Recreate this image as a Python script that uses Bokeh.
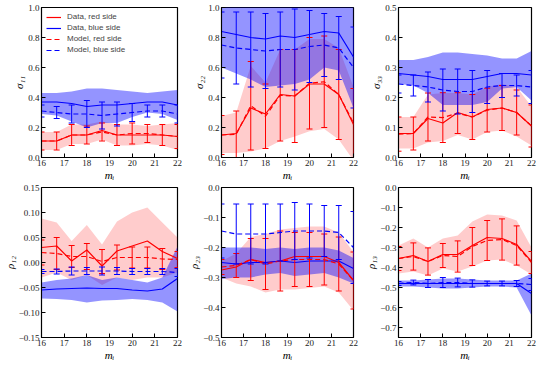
from bokeh.plotting import figure
from bokeh.layouts import gridplot
from bokeh.models import FixedTicker, Legend, LegendItem
from bokeh.embed import file_html
from bokeh.resources import INLINE
import math

# ---------------- data ----------------
m_i = [16.0, 16.67, 17.33, 18.0, 18.67, 19.33, 20.0, 20.67, 21.33, 22.0]
x_ticks = [16, 17, 18, 19, 20, 21, 22]

# sigma_11
s11_red_data = [0.11, 0.11, 0.15, 0.15, 0.18, 0.15, 0.15, 0.15, 0.15, 0.14]
s11_red_lo = [0.05, 0.05, 0.09, 0.09, 0.12, 0.08, 0.08, 0.09, 0.08, 0.05]
s11_red_hi = [0.17, 0.17, 0.22, 0.22, 0.24, 0.22, 0.22, 0.21, 0.22, 0.23]
s11_red_model = [0.11, 0.11, 0.15, 0.15, 0.17, 0.15, 0.16, 0.16, 0.15, 0.14]
s11_red_err = [0.06, 0.06, 0.07, 0.06, 0.06, 0.07, 0.07, 0.06, 0.07, 0.08]
s11_blue_data = [0.37, 0.37, 0.36, 0.34, 0.35, 0.35, 0.36, 0.37, 0.37, 0.35]
s11_blue_lo = [0.29, 0.28, 0.24, 0.20, 0.23, 0.23, 0.27, 0.30, 0.29, 0.25]
s11_blue_hi = [0.43, 0.43, 0.44, 0.46, 0.46, 0.45, 0.44, 0.43, 0.44, 0.45]
s11_blue_model = [0.31, 0.30, 0.29, 0.29, 0.28, 0.29, 0.30, 0.31, 0.31, 0.29]
s11_blue_err = [0.04, 0.04, 0.06, 0.09, 0.09, 0.08, 0.06, 0.04, 0.04, 0.06]

# sigma_22
s22_red_data = [0.15, 0.16, 0.33, 0.29, 0.42, 0.41, 0.49, 0.49, 0.42, 0.22]
s22_red_lo = [0.03, 0.03, 0.04, 0.06, 0.11, 0.14, 0.175, 0.19, 0.12, -0.02]
s22_red_hi = [0.276, 0.30, 0.61, 0.50, 0.72, 0.72, 0.79, 0.79, 0.73, 0.47]
s22_red_model = [0.15, 0.155, 0.345, 0.275, 0.415, 0.41, 0.495, 0.505, 0.42, 0.23]
s22_red_err = [0.13, 0.155, 0.295, 0.215, 0.305, 0.31, 0.305, 0.305, 0.30, 0.23]
s22_blue_data = [0.84, 0.82, 0.80, 0.79, 0.81, 0.80, 0.82, 0.84, 0.83, 0.67]
s22_blue_lo = [0.60, 0.56, 0.52, 0.47, 0.48, 0.49, 0.52, 0.60, 0.58, 0.33]
s22_blue_hi = [1.05, 1.05, 1.05, 1.05, 1.05, 1.05, 1.05, 1.05, 1.05, 1.05]
s22_blue_model = [0.75, 0.73, 0.72, 0.71, 0.72, 0.72, 0.74, 0.75, 0.73, 0.60]
s22_blue_err = [0.22, 0.24, 0.25, 0.25, 0.25, 0.27, 0.24, 0.21, 0.21, 0.27]

# sigma_33
s33_red_data = [0.08, 0.08, 0.13, 0.115, 0.15, 0.135, 0.16, 0.165, 0.15, 0.105]
s33_red_lo = [0.03, 0.03, 0.05, 0.055, 0.075, 0.06, 0.085, 0.09, 0.07, 0.04]
s33_red_hi = [0.135, 0.135, 0.21, 0.215, 0.215, 0.21, 0.235, 0.245, 0.235, 0.17]
s33_red_model = [0.078, 0.08, 0.135, 0.133, 0.148, 0.135, 0.158, 0.165, 0.15, 0.105]
s33_red_err = [0.057, 0.055, 0.08, 0.083, 0.068, 0.075, 0.073, 0.075, 0.075, 0.07]
s33_blue_data = [0.28, 0.275, 0.27, 0.26, 0.26, 0.26, 0.27, 0.28, 0.28, 0.275]
s33_blue_lo = [0.245, 0.24, 0.215, 0.175, 0.175, 0.175, 0.185, 0.23, 0.235, 0.19]
s33_blue_hi = [0.325, 0.325, 0.335, 0.35, 0.35, 0.345, 0.34, 0.33, 0.33, 0.355]
s33_blue_model = [0.245, 0.24, 0.235, 0.225, 0.22, 0.22, 0.235, 0.24, 0.24, 0.235]
s33_blue_err = [0.03, 0.035, 0.05, 0.07, 0.075, 0.07, 0.055, 0.04, 0.035, 0.055]

# rho_12
r12_red_data = [0.030, 0.033, 0.003, 0.025, -0.007, 0.023, 0.033, 0.043, 0.022, 0.008]
r12_red_lo = [-0.03, -0.02, -0.035, -0.025, -0.045, -0.03, -0.035, -0.03, -0.03, -0.02]
r12_red_hi = [0.088, 0.080, 0.043, 0.075, 0.036, 0.082, 0.10, 0.11, 0.08, 0.05]
r12_red_model = [0.020, 0.018, 0.012, 0.012, 0.002, 0.010, 0.010, 0.010, 0.007, 0.006]
r12_red_err = [0.025, 0.032, 0.022, 0.026, 0.024, 0.025, 0.021, 0.021, 0.021, 0.016]
r12_blue_data = [-0.055, -0.053, -0.052, -0.051, -0.052, -0.052, -0.055, -0.057, -0.053, -0.032]
r12_blue_lo = [-0.072, -0.073, -0.075, -0.080, -0.076, -0.075, -0.073, -0.075, -0.080, -0.098]
r12_blue_hi = [-0.040, -0.035, -0.032, -0.025, -0.035, -0.030, -0.035, -0.040, -0.030, 0.032]
r12_blue_model = [-0.018, -0.018, -0.017, -0.017, -0.017, -0.017, -0.018, -0.018, -0.018, -0.020]
r12_blue_err = [0.004, 0.005, 0.008, 0.007, 0.008, 0.007, 0.006, 0.006, 0.006, 0.008]

# rho_23
r23_red_data = [-0.275, -0.265, -0.24, -0.25, -0.245, -0.23, -0.23, -0.23, -0.25, -0.31]
r23_red_lo = [-0.30, -0.32, -0.33, -0.35, -0.34, -0.34, -0.335, -0.33, -0.35, -0.41]
r23_red_hi = [-0.245, -0.22, -0.165, -0.155, -0.14, -0.135, -0.13, -0.13, -0.15, -0.215]
r23_red_model = [-0.265, -0.26, -0.24, -0.255, -0.245, -0.24, -0.24, -0.24, -0.255, -0.31]
r23_red_err = [0.025, 0.04, 0.07, 0.085, 0.10, 0.09, 0.09, 0.085, 0.09, 0.095]
r23_blue_data = [-0.25, -0.255, -0.25, -0.25, -0.245, -0.25, -0.245, -0.245, -0.245, -0.27]
r23_blue_lo = [-0.305, -0.30, -0.30, -0.29, -0.285, -0.295, -0.29, -0.285, -0.30, -0.32]
r23_blue_hi = [-0.20, -0.20, -0.20, -0.205, -0.20, -0.205, -0.20, -0.20, -0.21, -0.235]
r23_blue_model = [-0.145, -0.155, -0.155, -0.155, -0.15, -0.145, -0.145, -0.145, -0.15, -0.20]
r23_blue_err = [0.09, 0.10, 0.10, 0.10, 0.095, 0.095, 0.09, 0.085, 0.09, 0.12]

# rho_13
r13_red_data = [-0.355, -0.34, -0.37, -0.335, -0.335, -0.29, -0.25, -0.255, -0.285, -0.37]
r13_red_lo = [-0.43, -0.42, -0.44, -0.405, -0.42, -0.395, -0.365, -0.36, -0.39, -0.435]
r13_red_hi = [-0.29, -0.255, -0.30, -0.255, -0.24, -0.17, -0.135, -0.14, -0.165, -0.30]
r13_red_model = [-0.355, -0.345, -0.37, -0.34, -0.345, -0.295, -0.265, -0.26, -0.29, -0.375]
r13_red_err = [0.06, 0.068, 0.068, 0.06, 0.078, 0.095, 0.10, 0.103, 0.098, 0.055]
r13_blue_data = [-0.48, -0.48, -0.48, -0.48, -0.48, -0.48, -0.48, -0.48, -0.48, -0.53]
r13_blue_lo = [-0.495, -0.495, -0.50, -0.505, -0.505, -0.50, -0.495, -0.495, -0.50, -0.64]
r13_blue_hi = [-0.465, -0.465, -0.46, -0.455, -0.455, -0.46, -0.465, -0.465, -0.465, -0.43]
r13_blue_model = [-0.48, -0.475, -0.48, -0.475, -0.475, -0.48, -0.48, -0.48, -0.48, -0.485]
r13_blue_err = [0.01, 0.012, 0.02, 0.025, 0.022, 0.018, 0.012, 0.012, 0.015, 0.03]

yticks_s11 = [0.0, 0.2, 0.4, 0.6, 0.8, 1.0]
yticks_s33 = [0.0, 0.1, 0.2, 0.3, 0.4, 0.5]
yticks_r12 = [-0.15, -0.10, -0.05, 0.0, 0.05, 0.10, 0.15]
yticks_r23 = [-0.5, -0.4, -0.3, -0.2, -0.1, 0.0]
yticks_r13 = [-0.7, -0.6, -0.5, -0.4, -0.3, -0.2, -0.1, 0.0]

RED = "#ff0000"
BLUE = "#0000ff"
SERIF = "Liberation Serif"


def fmt(v, nd):
    s = f"{v:.{nd}f}"
    return s.replace("-", "\u2212")


def style_axis(ax):
    ax.major_tick_in = 4
    ax.major_tick_out = 0
    ax.minor_tick_in = 0
    ax.minor_tick_out = 0
    ax.axis_line_color = "black"
    ax.major_tick_line_color = "black"
    ax.major_label_text_font = SERIF
    ax.major_label_text_font_size = "9px"
    ax.major_label_text_color = "#222222"
    ax.major_label_standoff = 2
    ax.axis_label_text_font = SERIF
    ax.axis_label_text_font_size = "11px"
    ax.axis_label_text_font_style = "italic"
    ax.axis_label_text_color = "black"
    ax.axis_label_standoff = 0


def panel(yr, yticks, nd, ylabel, borders, frame, series):
    left, right, top, bottom = borders
    fw, fh = frame
    p = figure(width=left + fw + right, height=top + fh + bottom,
               x_range=(16, 22), y_range=yr, output_backend="svg",
               toolbar_location=None,
               min_border_left=left, min_border_right=right,
               min_border_top=top, min_border_bottom=bottom)
    p.grid.visible = False
    p.outline_line_color = "black"
    p.outline_line_width = 1.2
    p.background_fill_color = "white"
    p.border_fill_color = "white"
    style_axis(p.xaxis[0])
    style_axis(p.yaxis[0])
    p.xaxis.ticker = FixedTicker(ticks=x_ticks)
    p.xaxis.major_label_overrides = {t: str(t) for t in x_ticks}
    p.yaxis.ticker = FixedTicker(ticks=yticks)
    p.yaxis.major_label_overrides = {t: fmt(t, nd) for t in yticks}
    p.xaxis.axis_label = "m\u1d62"
    p.yaxis.axis_label = ylabel

    (rd, rlo, rhi, rm, rerr, bd, blo, bhi, bm, berr) = series
    p.varea(x=m_i, y1=rlo, y2=rhi, fill_color=RED, fill_alpha=0.2)
    p.varea(x=m_i, y1=blo, y2=bhi, fill_color=BLUE, fill_alpha=0.42)
    out = {}
    out["rd"] = p.line(m_i, rd, line_color=RED, line_width=1.2)
    out["bd"] = p.line(m_i, bd, line_color=BLUE, line_width=1.2)
    for key, m, e, c in (("rm", rm, rerr, RED), ("bm", bm, berr, BLUE)):
        lo = [a - b for a, b in zip(m, e)]
        hi = [a + b for a, b in zip(m, e)]
        p.segment(x0=m_i, y0=lo, x1=m_i, y1=hi, line_color=c, line_width=1)
        p.scatter(m_i, lo, marker="dash", size=6, line_color=c, line_width=1)
        p.scatter(m_i, hi, marker="dash", size=6, line_color=c, line_width=1)
        out[key] = p.line(m_i, m, line_color=c, line_width=1.2, line_dash="5 3")
        out[key + "_icon"] = p.scatter(x=[], y=[], marker="dash", angle=math.pi / 2,
                                       size=8, line_color=c, line_width=1.2)
    return p, out


# (left, right) borders and frame widths per column; (top, bottom) and frame heights per row
col_b = [(40, 8), (33, 9), (32, 9)]
col_w = [137, 135, 137]
row_b = [(7, 27), (3, 27)]
row_h = [150, 150]


def geo(r, c):
    return (col_b[c][0], col_b[c][1], row_b[r][0], row_b[r][1]), (col_w[c], row_h[r])


b, f = geo(0, 0)
p1, o1 = panel((0, 1), yticks_s11, 1, "\u03c3\u2081\u2081", b, f,
               (s11_red_data, s11_red_lo, s11_red_hi, s11_red_model, s11_red_err,
                s11_blue_data, s11_blue_lo, s11_blue_hi, s11_blue_model, s11_blue_err))
b, f = geo(0, 1)
p2, _ = panel((0, 1), yticks_s11, 1, "\u03c3\u2082\u2082", b, f,
              (s22_red_data, s22_red_lo, s22_red_hi, s22_red_model, s22_red_err,
               s22_blue_data, s22_blue_lo, s22_blue_hi, s22_blue_model, s22_blue_err))
b, f = geo(0, 2)
p3, _ = panel((0, 0.5), yticks_s33, 1, "\u03c3\u2083\u2083", b, f,
              (s33_red_data, s33_red_lo, s33_red_hi, s33_red_model, s33_red_err,
               s33_blue_data, s33_blue_lo, s33_blue_hi, s33_blue_model, s33_blue_err))
b, f = geo(1, 0)
p4, _ = panel((-0.15, 0.15), yticks_r12, 2, "\u03c1\u2081\u2082", b, f,
              (r12_red_data, r12_red_lo, r12_red_hi, r12_red_model, r12_red_err,
               r12_blue_data, r12_blue_lo, r12_blue_hi, r12_blue_model, r12_blue_err))
b, f = geo(1, 1)
p5, _ = panel((-0.5, 0.0), yticks_r23, 1, "\u03c1\u2082\u2083", b, f,
              (r23_red_data, r23_red_lo, r23_red_hi, r23_red_model, r23_red_err,
               r23_blue_data, r23_blue_lo, r23_blue_hi, r23_blue_model, r23_blue_err))
b, f = geo(1, 2)
p6, _ = panel((-0.75, 0.0), yticks_r13, 1, "\u03c1\u2081\u2083", b, f,
              (r13_red_data, r13_red_lo, r13_red_hi, r13_red_model, r13_red_err,
               r13_blue_data, r13_blue_lo, r13_blue_hi, r13_blue_model, r13_blue_err))

legend = Legend(items=[
    LegendItem(label="Data, red side", renderers=[o1["rd"]]),
    LegendItem(label="Data, blue side", renderers=[o1["bd"]]),
    LegendItem(label="Model, red side", renderers=[o1["rm"], o1["rm_icon"]]),
    LegendItem(label="Model, blue side", renderers=[o1["bm"], o1["bm_icon"]]),
], location="top_left")
legend.margin = 2
legend.padding = 3
legend.spacing = 2
legend.label_height = 8
legend.glyph_height = 8
legend.glyph_width = 15
legend.label_standoff = 6
legend.label_text_font = "Liberation Sans"
legend.label_text_font_size = "8px"
legend.border_line_alpha = 0
legend.background_fill_alpha = 0
p1.add_layout(legend)

grid = gridplot([[p1, p2, p3], [p4, p5, p6]], toolbar_location=None)
open("out.html", "w").write(file_html(grid, INLINE))
